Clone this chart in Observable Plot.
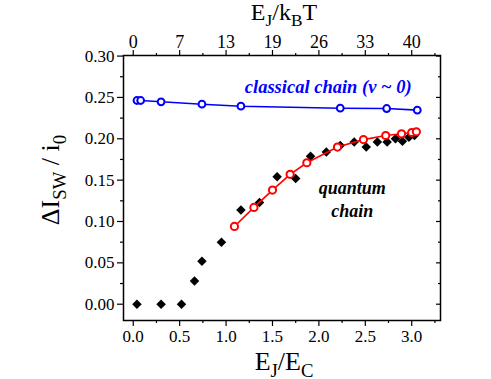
<!DOCTYPE html>
<html>
<head>
<meta charset="utf-8">
<script src="https://cdn.jsdelivr.net/npm/d3@7"></script>
<script src="https://cdn.jsdelivr.net/npm/@observablehq/plot@0.6"></script>
<style>
  html, body { margin: 0; padding: 0; background: #fff; }
  #chart svg { display: block; }
  #chart svg text, #chart svg tspan { font-family: 'Liberation Serif', 'Times New Roman', serif !important; }
</style>
</head>
<body>
<div id="chart"></div>
<script>
// Experimental data (black diamonds): E_J/E_C vs ΔI_SW/i_0
const expX = [0.04, 0.30, 0.52, 0.66, 0.74, 0.95, 1.16, 1.36, 1.55, 1.75, 1.91, 2.08, 2.23, 2.38, 2.51, 2.63, 2.735, 2.825, 2.90, 2.97, 3.03];
const expY = [0.000, 0.000, 0.000, 0.028, 0.052, 0.075, 0.114, 0.123, 0.154, 0.152, 0.179, 0.184, 0.192, 0.196, 0.190, 0.196, 0.196, 0.200, 0.197, 0.202, 0.204];

// Quantum chain model (red open circles)
const quantX = [1.09, 1.30, 1.50, 1.69, 1.87, 2.20, 2.48, 2.72, 2.89, 3.00, 3.05];
const quantY = [0.094, 0.117, 0.138, 0.157, 0.171, 0.190, 0.199, 0.204, 0.206, 0.2076, 0.2085];

// Classical chain model (blue open circles)
const classX = [0.04, 0.08, 0.30, 0.74, 1.16, 2.23, 2.73, 3.06];
const classY = [0.2463, 0.2463, 0.2447, 0.2418, 0.2394, 0.2370, 0.2366, 0.2346];

// Axis ticks
const xMajor = [0, 0.5, 1.0, 1.5, 2.0, 2.5, 3.0];
const xMinor = [0.25, 0.75, 1.25, 1.75, 2.25, 2.75, 3.25];
const topLabels = ["0", "7", "13", "19", "26", "33", "40"];
const yMajor = [0, 0.05, 0.10, 0.15, 0.20, 0.25, 0.30];
const yMinor = [0.025, 0.075, 0.125, 0.175, 0.225, 0.275];

// Annotations
const annClassical = [{x: 2.10, y: 0.2625, text: "classical chain (ν ~ 0)"}];
const annQuantum = [{x: 2.36, y: 0.128, text: "quantum\nchain"}];

const exp = expX.map((x, i) => ({x, y: expY[i]}));
const quant = quantX.map((x, i) => ({x, y: quantY[i]}));
const classical = classX.map((x, i) => ({x, y: classY[i]}));

const serif = "Liberation Serif";

const plot = Plot.plot({
  width: 491,
  height: 379,
  marginLeft: 123,
  marginRight: 51,
  marginTop: 55,
  marginBottom: 59,
  x: {domain: [-0.105, 3.31]},
  y: {domain: [-0.0197, 0.3007]},
  style: {background: "white", color: "black", overflow: "visible"},
  marks: [
    Plot.axisX({anchor: "bottom", ticks: xMajor, tickSize: 6, tickPadding: 3, fontSize: 17, fontFamily: serif, strokeWidth: 1.2, tickFormat: d => d.toFixed(1), label: null}),
    Plot.axisX({anchor: "bottom", ticks: xMinor, tickSize: 3, strokeWidth: 1.2, fill: "none", label: null}),
    Plot.axisX({anchor: "top", ticks: xMajor, tickSize: 6, tickPadding: 2, fontSize: 18, fontFamily: serif, strokeWidth: 1.2, tickFormat: (d, i) => topLabels[i], label: null}),
    Plot.axisX({anchor: "top", ticks: xMinor, tickSize: 3, strokeWidth: 1.2, fill: "none", label: null}),
    Plot.axisY({anchor: "left", ticks: yMajor, tickSize: 6, tickPadding: 3, fontSize: 17, fontFamily: serif, strokeWidth: 1.2, tickFormat: d => d.toFixed(2), label: null}),
    Plot.axisY({anchor: "left", ticks: yMinor, tickSize: 3, strokeWidth: 1.2, fill: "none", label: null}),
    Plot.axisY({anchor: "right", ticks: yMajor, tickSize: 5, insetRight: 5, strokeWidth: 1.2, fill: "none", label: null}),
    Plot.axisY({anchor: "right", ticks: yMinor, tickSize: 3, insetRight: 3, strokeWidth: 1.2, fill: "none", label: null}),
    Plot.frame({strokeWidth: 1.5}),
    Plot.line(classical, {x: "x", y: "y", stroke: "#0000ff", strokeWidth: 1.6}),
    Plot.dot(classical, {x: "x", y: "y", r: 3.4, stroke: "#0000ff", strokeWidth: 2, fill: "white"}),
    Plot.dot(exp, {x: "x", y: "y", symbol: "square", rotate: 45, r: 3.8, fill: "black", stroke: "none"}),
    Plot.line(quant, {x: "x", y: "y", stroke: "#ff0000", strokeWidth: 1.6}),
    Plot.dot(quant, {x: "x", y: "y", r: 3.6, stroke: "#ff0000", strokeWidth: 2, fill: "white"}),
    Plot.text(annClassical, {x: "x", y: "y", text: "text", fill: "#0000ff", fontSize: 18.5, fontFamily: serif, fontWeight: "bold", fontStyle: "italic", textAnchor: "middle"}),
    Plot.text(annQuantum, {x: "x", y: "y", text: "text", fill: "black", fontSize: 18, fontFamily: serif, fontWeight: "bold", fontStyle: "italic", textAnchor: "middle", lineHeight: 1.25})
  ]
});

document.getElementById("chart").appendChild(plot);

// Axis titles with subscripts
const svg = d3.select(plot);
function addLabel(parts, x, y, size, rotate) {
  const t = svg.append("text")
    .attr("font-family", serif)
    .attr("font-size", size)
    .attr("fill", "black")
    .attr("text-anchor", "middle")
    .attr("transform", `translate(${x},${y})` + (rotate ? ` rotate(${rotate})` : ""));
  const shift = size * 0.25;
  let prevSub = false;
  parts.forEach(([s, sub]) => {
    const dy = sub ? (prevSub ? 0 : shift) : (prevSub ? -shift : 0);
    t.append("tspan")
      .attr("font-size", sub ? size * 0.72 : size)
      .attr("dy", dy)
      .text(s);
    prevSub = !!sub;
  });
}
addLabel([["E"], ["J", 1], ["/E"], ["C", 1]], 284, 370, 26);
addLabel([["E"], ["J", 1], ["/k"], ["B", 1], ["T"]], 284, 20, 24);
addLabel([["ΔI"], ["SW", 1], [" / i"], ["0", 1]], 59, 180, 26, -90);
</script>
</body>
</html>
